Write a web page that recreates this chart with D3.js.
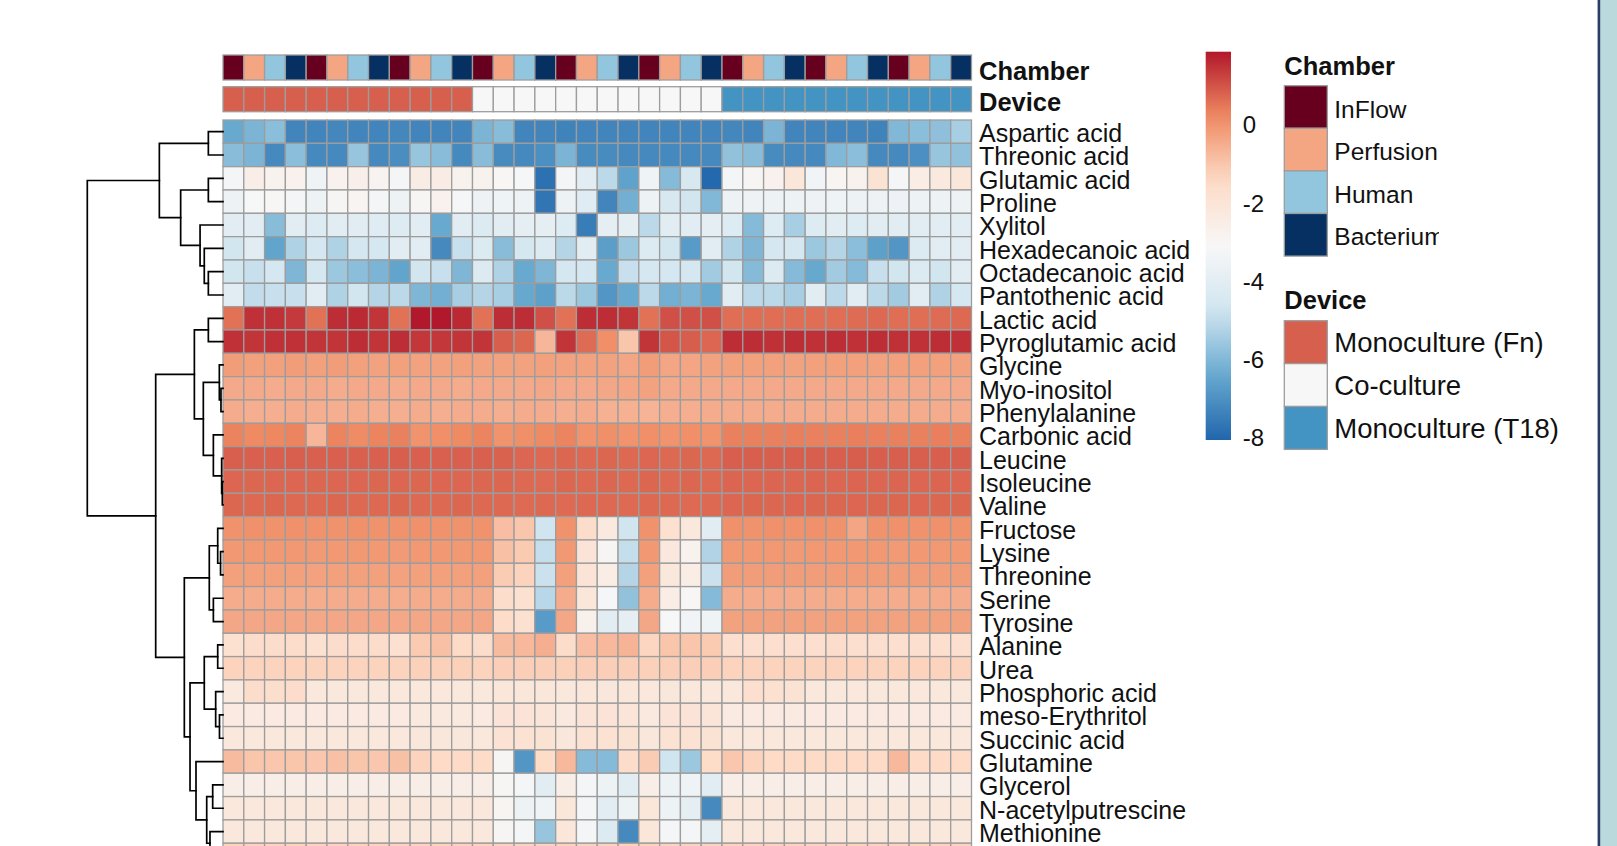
<!DOCTYPE html>
<html>
<head>
<meta charset="utf-8">
<script src="https://cdn.jsdelivr.net/npm/d3@7"></script>
<style>
  html, body { margin: 0; padding: 0; background: #fff; overflow: hidden; }
  svg { display: block; font-family: "Liberation Sans", Arial, sans-serif; }
</style>
</head>
<body>
<svg id="chart" width="1617" height="846"></svg>
<script>
// ---------------- data ----------------
const metabolites = [
  "Aspartic acid", "Threonic acid", "Glutamic acid", "Proline", "Xylitol",
  "Hexadecanoic acid", "Octadecanoic acid", "Pantothenic acid", "Lactic acid",
  "Pyroglutamic acid", "Glycine", "Myo-inositol", "Phenylalanine", "Carbonic acid",
  "Leucine", "Isoleucine", "Valine", "Fructose", "Lysine", "Threonine", "Serine",
  "Tyrosine", "Alanine", "Urea", "Phosphoric acid", "meso-Erythritol",
  "Succinic acid", "Glutamine", "Glycerol", "N-acetylputrescine", "Methionine", ""
];

const chamberLevels = ["InFlow", "Perfusion", "Human", "Bacterium"];
const chamberColors = ["#67001f", "#f4a582", "#92c5de", "#053061"];
const deviceLevels = ["Monoculture (Fn)", "Co-culture", "Monoculture (T18)"];
const deviceColors = ["#d6604d", "#f7f7f7", "#4393c3"];

const sampleChamber = [
  "InFlow","Perfusion","Human","Bacterium","InFlow","Perfusion","Human","Bacterium","InFlow","Perfusion","Human","Bacterium",
  "InFlow","Perfusion","Human","Bacterium","InFlow","Perfusion","Human","Bacterium","InFlow","Perfusion","Human","Bacterium",
  "InFlow","Perfusion","Human","Bacterium","InFlow","Perfusion","Human","Bacterium","InFlow","Perfusion","Human","Bacterium"
];
const sampleDevice = [
  "Monoculture (Fn)","Monoculture (Fn)","Monoculture (Fn)","Monoculture (Fn)","Monoculture (Fn)","Monoculture (Fn)",
  "Monoculture (Fn)","Monoculture (Fn)","Monoculture (Fn)","Monoculture (Fn)","Monoculture (Fn)","Monoculture (Fn)",
  "Co-culture","Co-culture","Co-culture","Co-culture","Co-culture","Co-culture",
  "Co-culture","Co-culture","Co-culture","Co-culture","Co-culture","Co-culture",
  "Monoculture (T18)","Monoculture (T18)","Monoculture (T18)","Monoculture (T18)","Monoculture (T18)","Monoculture (T18)",
  "Monoculture (T18)","Monoculture (T18)","Monoculture (T18)","Monoculture (T18)","Monoculture (T18)","Monoculture (T18)"
];

// log-scaled abundance, one row per metabolite, one value per sample
const cellValues = [
  [-6.4,-6.1,-5.85,-7.3,-7.3,-7.25,-7.3,-7.3,-7.25,-7.3,-7.3,-7.3,-6.1,-5.9,-7.3,-7.3,-7.35,-7.3,-7.3,-7.3,-7.3,-7.3,-7.3,-7.3,-7.25,-7.3,-6.1,-7.3,-7.3,-7.3,-7.3,-7.35,-6.0,-5.85,-5.8,-5.4],
  [-5.9,-6.1,-7.2,-5.85,-7.2,-7.2,-5.65,-7.2,-7.1,-5.65,-5.9,-7.2,-5.9,-7.15,-7.2,-7.05,-6.1,-7.15,-7.15,-7.2,-7.2,-7.2,-7.2,-7.2,-5.75,-5.9,-7.15,-7.2,-7.2,-6.0,-5.85,-7.2,-7.2,-7.05,-5.65,-5.75],
  [-3.3,-2.55,-2.8,-2.75,-3.5,-2.75,-2.65,-2.9,-3.3,-2.45,-2.45,-2.8,-2.8,-3.05,-3.2,-7.8,-3.3,-4.05,-5.1,-6.6,-3.5,-5.95,-4.5,-8.0,-3.3,-3.0,-2.75,-2.1,-3.4,-2.95,-2.8,-1.9,-3.3,-2.5,-2.3,-2.1],
  [-3.55,-3.15,-3.05,-3.3,-3.55,-3.0,-2.95,-3.3,-3.55,-3.0,-2.75,-3.2,-3.55,-3.5,-3.55,-7.7,-3.55,-4.1,-7.3,-6.25,-3.55,-4.5,-4.7,-6.0,-3.55,-3.55,-3.55,-3.55,-3.55,-3.5,-3.55,-3.55,-3.6,-3.55,-3.55,-3.55],
  [-4.05,-4.05,-5.9,-4.05,-4.25,-4.05,-4.05,-4.15,-4.25,-4.05,-6.4,-4.05,-4.3,-4.05,-3.95,-3.95,-4.25,-7.5,-3.95,-3.95,-5.1,-4.05,-4.05,-3.95,-4.25,-5.95,-4.25,-5.4,-4.25,-4.05,-4.25,-4.05,-4.05,-4.05,-4.05,-4.05],
  [-4.7,-4.05,-6.55,-5.3,-4.6,-5.3,-4.6,-4.6,-4.05,-4.05,-7.2,-4.9,-4.3,-5.9,-4.6,-4.3,-5.2,-4.05,-6.7,-5.6,-4.3,-4.7,-6.75,-4.05,-5.3,-6.05,-4.6,-4.6,-5.6,-5.2,-5.85,-6.65,-6.9,-4.3,-4.05,-4.05],
  [-4.7,-4.9,-4.6,-6.05,-4.6,-5.6,-5.85,-6.1,-6.55,-4.7,-4.9,-6.05,-4.3,-5.3,-6.4,-6.05,-4.6,-4.6,-6.4,-4.9,-4.6,-4.6,-4.6,-5.5,-4.7,-5.95,-4.3,-5.95,-6.45,-5.5,-5.95,-4.9,-4.7,-4.3,-4.7,-4.05],
  [-4.05,-5.0,-4.9,-4.9,-4.05,-5.3,-4.7,-5.2,-5.1,-6.05,-6.25,-5.4,-5.2,-5.4,-6.45,-6.65,-5.1,-5.6,-6.9,-6.4,-5.1,-6.25,-6.1,-6.4,-4.05,-5.1,-5.1,-5.4,-4.05,-5.1,-4.05,-5.1,-5.5,-4.05,-5.3,-4.6],
  [0.55,1.5,1.5,1.35,0.55,1.55,1.6,1.45,0.55,1.85,1.85,1.6,0.55,1.55,1.55,1.05,0.55,1.55,1.55,1.45,0.55,1.05,1.05,1.05,0.6,0.6,0.6,0.6,0.6,0.6,0.65,0.67,0.6,0.6,0.65,0.67],
  [1.5,1.45,1.5,1.5,1.45,1.45,1.55,1.45,1.55,1.4,1.4,1.45,1.45,0.85,0.7,-0.7,1.45,0.65,0.1,-1.0,1.45,0.95,0.85,0.72,1.55,1.55,1.5,1.55,1.5,1.55,1.5,1.55,1.5,1.5,1.55,1.5],
  [-0.2,-0.25,-0.25,-0.2,-0.25,-0.2,-0.25,-0.3,-0.25,-0.3,-0.3,-0.25,-0.3,-0.3,-0.3,-0.25,-0.3,-0.3,-0.3,-0.35,-0.2,-0.35,-0.35,-0.3,-0.25,-0.25,-0.25,-0.3,-0.25,-0.25,-0.25,-0.3,-0.25,-0.25,-0.25,-0.3],
  [-0.45,-0.45,-0.5,-0.45,-0.45,-0.5,-0.45,-0.45,-0.5,-0.45,-0.45,-0.5,-0.45,-0.45,-0.45,-0.4,-0.45,-0.45,-0.4,-0.35,-0.3,-0.45,-0.45,-0.45,-0.45,-0.45,-0.45,-0.45,-0.45,-0.45,-0.45,-0.45,-0.45,-0.45,-0.45,-0.45],
  [-0.5,-0.55,-0.55,-0.5,-0.55,-0.55,-0.5,-0.55,-0.55,-0.5,-0.55,-0.5,-0.5,-0.55,-0.5,-0.5,-0.55,-0.5,-0.6,-0.6,-0.65,-0.55,-0.55,-0.5,-0.5,-0.5,-0.5,-0.5,-0.5,-0.5,-0.5,-0.5,-0.5,-0.5,-0.5,-0.5],
  [0.3,0.2,0.22,0.28,-0.7,0.28,0.15,0.28,0.32,0.0,0.1,0.18,0.28,0.0,0.08,0.18,0.28,0.0,0.08,0.0,0.1,0.0,0.1,0.0,0.32,0.32,0.32,0.35,0.32,0.32,0.35,0.32,0.32,0.32,0.35,0.32],
  [0.82,0.8,0.8,0.82,0.8,0.8,0.8,0.8,0.82,0.8,0.8,0.8,0.8,0.78,0.72,0.68,0.7,0.68,0.7,0.68,0.72,0.68,0.7,0.68,0.82,0.82,0.82,0.82,0.82,0.82,0.85,0.82,0.82,0.82,0.82,0.82],
  [0.72,0.7,0.72,0.72,0.7,0.72,0.72,0.7,0.72,0.7,0.72,0.72,0.7,0.7,0.68,0.66,0.7,0.68,0.7,0.68,0.7,0.68,0.7,0.68,0.74,0.72,0.74,0.72,0.74,0.72,0.74,0.72,0.74,0.72,0.74,0.72],
  [0.7,0.68,0.7,0.68,0.68,0.7,0.68,0.68,0.7,0.68,0.68,0.7,0.68,0.68,0.66,0.68,0.66,0.68,0.68,0.66,0.68,0.68,0.66,0.68,0.72,0.7,0.7,0.72,0.7,0.7,0.72,0.7,0.7,0.72,0.7,0.7],
  [0.02,0.05,0.02,0.05,0.02,0.02,0.05,0.02,0.02,0.05,0.02,0.02,0.02,-0.85,-1.0,-4.75,0.02,-1.6,-2.3,-4.75,0.02,-1.8,-2.2,-4.05,0.05,0.02,0.05,0.02,0.05,0.02,-0.35,0.02,0.05,0.02,0.05,0.02],
  [-0.1,-0.1,-0.1,-0.1,-0.12,-0.1,-0.1,-0.1,-0.12,-0.1,-0.1,-0.1,-0.1,-0.9,-1.1,-4.95,-0.1,-2.0,-3.0,-4.95,-0.1,-2.25,-2.8,-5.25,-0.1,-0.1,-0.1,-0.12,-0.1,-0.1,-0.1,-0.1,-0.12,-0.1,-0.1,-0.1],
  [-0.25,-0.25,-0.25,-0.25,-0.28,-0.25,-0.25,-0.25,-0.28,-0.25,-0.25,-0.25,-0.25,-1.15,-1.3,-4.85,-0.25,-2.0,-2.5,-5.2,-0.25,-2.2,-2.5,-4.85,-0.2,-0.2,-0.2,-0.2,-0.2,-0.2,-0.2,-0.2,-0.2,-0.2,-0.2,-0.2],
  [-0.5,-0.5,-0.5,-0.5,-0.52,-0.5,-0.5,-0.5,-0.52,-0.5,-0.5,-0.5,-0.5,-1.6,-1.75,-5.15,-0.5,-2.1,-3.2,-5.75,-0.5,-2.5,-3.05,-5.95,-0.5,-0.5,-0.5,-0.5,-0.5,-0.5,-0.5,-0.5,-0.5,-0.5,-0.5,-0.5],
  [-0.4,-0.4,-0.4,-0.4,-0.42,-0.4,-0.4,-0.4,-0.42,-0.4,-0.4,-0.4,-0.4,-1.55,-1.8,-6.75,-0.4,-2.7,-4.05,-3.95,-0.4,-3.15,-3.35,-3.5,-0.3,-0.3,-0.3,-0.3,-0.3,-0.3,-0.3,-0.3,-0.3,-0.3,-0.3,-0.3],
  [-1.75,-1.6,-1.6,-1.6,-1.75,-1.6,-1.6,-1.6,-1.75,-1.1,-0.9,-1.45,-1.6,-0.8,-0.75,-0.55,-1.6,-0.85,-0.75,-0.65,-1.35,-1.0,-1.0,-1.1,-1.7,-1.7,-1.7,-1.7,-1.7,-1.6,-1.7,-1.7,-1.7,-1.7,-1.7,-1.7],
  [-1.3,-1.3,-1.3,-1.3,-1.3,-1.3,-1.3,-1.3,-1.3,-1.25,-1.25,-1.25,-1.3,-1.2,-1.2,-1.2,-1.25,-1.2,-1.2,-1.2,-1.25,-1.2,-1.2,-1.2,-1.3,-1.3,-1.3,-1.3,-1.3,-1.3,-1.3,-1.3,-1.3,-1.3,-1.3,-1.3],
  [-2.3,-1.6,-1.65,-1.6,-2.2,-2.2,-2.2,-2.2,-2.2,-2.2,-2.2,-2.2,-2.2,-2.1,-2.1,-2.1,-2.2,-2.1,-2.15,-2.1,-2.2,-2.15,-2.2,-2.2,-2.2,-1.7,-1.8,-1.9,-2.2,-2.2,-2.2,-2.2,-2.2,-2.2,-2.2,-2.2],
  [-2.35,-2.35,-2.35,-2.35,-2.35,-2.35,-2.35,-2.35,-2.35,-2.3,-2.3,-2.3,-2.35,-2.0,-2.0,-2.05,-2.3,-2.0,-2.0,-2.05,-2.3,-2.0,-2.0,-2.05,-2.35,-2.35,-2.35,-2.35,-2.35,-2.35,-2.35,-2.35,-2.35,-2.35,-2.35,-2.35],
  [-2.2,-2.2,-2.2,-2.2,-2.2,-2.2,-2.2,-2.2,-2.2,-2.15,-2.15,-2.15,-2.2,-1.85,-1.85,-1.9,-2.15,-1.85,-1.85,-1.9,-2.15,-1.85,-1.85,-1.9,-2.2,-2.2,-2.2,-2.2,-2.2,-2.2,-2.2,-2.2,-2.2,-2.2,-2.2,-2.2],
  [-0.8,-1.0,-1.05,-1.0,-1.05,-0.9,-1.0,-1.05,-0.9,-1.3,-1.45,-1.45,-1.5,-3.0,-6.9,-1.5,-0.75,-5.95,-5.95,-1.6,-1.15,-4.75,-5.6,-1.5,-1.05,-1.3,-1.45,-1.45,-1.45,-1.45,-1.45,-1.45,-0.75,-1.45,-1.45,-1.45],
  [-2.55,-2.55,-2.55,-2.55,-2.55,-2.55,-2.55,-2.55,-2.55,-2.55,-2.55,-2.55,-2.55,-3.0,-3.3,-4.05,-2.55,-3.3,-3.55,-4.05,-2.55,-3.55,-3.5,-4.05,-2.55,-2.55,-2.55,-2.55,-2.55,-2.55,-2.55,-2.55,-2.55,-2.55,-2.55,-2.55],
  [-2.2,-2.2,-2.2,-2.2,-2.2,-2.2,-2.2,-2.2,-2.2,-2.2,-2.2,-2.2,-2.2,-2.95,-3.55,-3.5,-2.1,-3.3,-4.05,-3.55,-2.1,-3.55,-3.95,-7.2,-2.2,-2.2,-2.2,-2.2,-2.2,-2.2,-2.2,-2.2,-2.2,-2.2,-2.2,-2.2],
  [-2.2,-2.2,-2.2,-2.2,-2.2,-2.2,-2.2,-2.2,-2.2,-2.2,-2.2,-2.2,-2.2,-3.0,-3.3,-5.65,-2.1,-3.3,-4.3,-7.2,-2.1,-3.3,-3.3,-3.95,-2.2,-2.2,-2.2,-2.2,-2.2,-2.2,-2.2,-2.2,-2.2,-2.2,-2.2,-2.2],
  [-1.3,-1.3,-1.3,-1.3,-1.3,-1.3,-1.3,-1.3,-1.3,-1.3,-1.3,-1.3,-1.3,-1.3,-1.3,-1.3,-1.3,-1.3,-1.3,-1.3,-1.3,-1.3,-1.3,-1.3,-1.3,-1.3,-1.3,-1.3,-1.3,-1.3,-1.3,-1.3,-1.3,-1.3,-1.3,-1.3]
];

// row clustering: [node, left, right, height]; numbers are row indices
const rowMerges = [
  ["A", 0, 1, 1.08], ["B", 2, 3, 1.08], ["E", 6, 7, 1.08], ["D", 5, "E", 1.38],
  ["C", 4, "D", 1.69], ["F", "B", "C", 3.12], ["G", "A", "F", 4.69],
  ["K", 8, 9, 1.08], ["M1", 11, 12, 0.15], ["M", 10, "M1", 0.27],
  ["O1", 15, 16, 0.05], ["O", 14, "O1", 0.10], ["N", 13, "O", 0.71],
  ["L", "M", "N", 1.45], ["I", "K", "L", 2.11],
  ["R1", 18, 19, 0.18], ["R", 17, "R1", 0.39], ["S", 20, 21, 0.71], ["P", "R", "S", 1.01],
  ["V", 22, 23, 0.39], ["W1", 25, 26, 0.26], ["W", 24, "W1", 0.54], ["T", "V", "W", 1.38],
  ["Y", 28, 29, 0.76], ["Z", 30, 31, 0.96], ["X", "Y", "Z", 1.20], ["U", 27, "X", 1.99],
  ["Q", "T", "U", 2.43], ["J", "P", "Q", 2.85], ["H", "I", "J", 4.96],
  ["root", "G", "H", 10]
];

const legendTicks = [0, -2, -4, -6, -8];
const valueMin = -8.07, valueMax = 1.85;
const paletteColors = ["#b2182b", "#ef8a62", "#fddbc7", "#f7f7f7", "#d1e5f0", "#67a9cf", "#2166ac"];

// ---------------- scales ----------------
const svg = d3.select("#chart");
const nCols = sampleChamber.length;
const nRows = metabolites.length;
const rowH = 23.33;

const x = d3.scaleBand().domain(d3.range(nCols)).range([223, 971.5]);
const y = d3.scaleBand().domain(d3.range(nRows)).range([120, 120 + nRows * rowH]);

const color = d3.scaleLinear()
  .domain(paletteColors.map((c, i) => valueMax - i * (valueMax - valueMin) / (paletteColors.length - 1)))
  .range(paletteColors)
  .interpolate(d3.interpolateRgb)
  .clamp(true);

const chamberColor = d3.scaleOrdinal().domain(chamberLevels).range(chamberColors);
const deviceColor = d3.scaleOrdinal().domain(deviceLevels).range(deviceColors);

const gridStroke = "#9d9d9d";
const textColor = "#111";

// ---------------- column annotations ----------------
const annot = svg.append("g");
annot.selectAll("rect.chamber").data(sampleChamber).join("rect")
  .attr("class", "chamber")
  .attr("x", (d, i) => x(i)).attr("y", 55)
  .attr("width", x.bandwidth()).attr("height", 25)
  .attr("fill", d => chamberColor(d))
  .attr("stroke", gridStroke).attr("stroke-width", 1.3);

annot.selectAll("rect.device").data(sampleDevice).join("rect")
  .attr("class", "device")
  .attr("x", (d, i) => x(i)).attr("y", 86.7)
  .attr("width", x.bandwidth()).attr("height", 25)
  .attr("fill", d => deviceColor(d))
  .attr("stroke", gridStroke).attr("stroke-width", 1.3);

annot.append("text").text("Chamber")
  .attr("x", 979).attr("y", 80)
  .attr("font-size", 25.5).attr("font-weight", "bold").attr("fill", textColor);
annot.append("text").text("Device")
  .attr("x", 979).attr("y", 111)
  .attr("font-size", 25.5).attr("font-weight", "bold").attr("fill", textColor);

// ---------------- heatmap cells ----------------
const cells = [];
cellValues.forEach((row, r) => row.forEach((v, c) => cells.push({ r, c, v })));

svg.append("g").selectAll("rect").data(cells).join("rect")
  .attr("x", d => x(d.c)).attr("y", d => y(d.r))
  .attr("width", x.bandwidth()).attr("height", y.bandwidth())
  .attr("fill", d => color(d.v))
  .attr("stroke", gridStroke).attr("stroke-width", 1.3);

// row labels
svg.append("g").selectAll("text").data(metabolites.filter(m => m !== "")).join("text")
  .text(d => d)
  .attr("x", 979)
  .attr("y", (d, i) => y(i) + y.bandwidth() / 2 + 10.3)
  .attr("font-size", 25).attr("fill", textColor);

// ---------------- row dendrogram ----------------
const xd = d3.scaleLinear().domain([0, 10]).range([223, 87.3]);
const nodes = {};
const pos = key => (typeof key === "number")
  ? { x: xd(0), y: y(key) + y.bandwidth() / 2 }
  : nodes[key];

const dendro = svg.append("g").attr("fill", "none").attr("stroke", "#000")
  .attr("stroke-width", 1.7).attr("stroke-linejoin", "miter").attr("stroke-linecap", "square");

rowMerges.forEach(([name, a, b, h]) => {
  const pa = pos(a), pb = pos(b);
  const nx = xd(h);
  nodes[name] = { x: nx, y: (pa.y + pb.y) / 2 };
  const p = d3.path();
  p.moveTo(pa.x, pa.y);
  p.lineTo(nx, pa.y);
  p.lineTo(nx, pb.y);
  p.lineTo(pb.x, pb.y);
  dendro.append("path").attr("d", p.toString());
});

// ---------------- colour legend ----------------
const yLeg = d3.scaleLinear().domain([valueMin, valueMax]).range([440, 51.7]);
const defs = svg.append("defs");
const grad = defs.append("linearGradient").attr("id", "valueGradient")
  .attr("x1", 0).attr("y1", 1).attr("x2", 0).attr("y2", 0);
d3.range(0, 1.0001, 0.05).forEach(t => {
  grad.append("stop").attr("offset", t)
    .attr("stop-color", color(valueMin + t * (valueMax - valueMin)));
});
svg.append("rect")
  .attr("x", 1205.7).attr("y", yLeg(valueMax))
  .attr("width", 25.3).attr("height", yLeg(valueMin) - yLeg(valueMax))
  .attr("fill", "url(#valueGradient)");

svg.append("g").selectAll("text").data(legendTicks).join("text")
  .text(d => d)
  .attr("x", 1242.7).attr("y", d => yLeg(d) + 9.1)
  .attr("font-size", 24).attr("fill", textColor);

// ---------------- annotation legends ----------------
const leg = svg.append("g");
const swX = 1284.3, swW = 43, swH = 42.6;

leg.append("text").text("Chamber")
  .attr("x", swX).attr("y", 75)
  .attr("font-size", 25.5).attr("font-weight", "bold").attr("fill", textColor);

defs.append("clipPath").attr("id", "chamberClip")
  .append("rect").attr("x", 1280).attr("y", 40).attr("width", 159).attr("height", 240);

leg.selectAll("rect.ch").data(chamberLevels).join("rect")
  .attr("class", "ch")
  .attr("x", swX).attr("y", (d, i) => 85.7 + i * swH)
  .attr("width", swW).attr("height", swH)
  .attr("fill", d => chamberColor(d))
  .attr("stroke", gridStroke).attr("stroke-width", 1.3);

leg.append("g").attr("clip-path", "url(#chamberClip)")
  .selectAll("text").data(chamberLevels).join("text")
  .text(d => d)
  .attr("x", 1334.3).attr("y", (d, i) => 85.7 + i * swH + swH / 2 + 10.6)
  .attr("font-size", 24.5).attr("fill", textColor);

leg.append("text").text("Device")
  .attr("x", swX).attr("y", 309.3)
  .attr("font-size", 25.5).attr("font-weight", "bold").attr("fill", textColor);

leg.selectAll("rect.dv").data(deviceLevels).join("rect")
  .attr("class", "dv")
  .attr("x", swX).attr("y", (d, i) => 320.7 + i * 42.9)
  .attr("width", swW).attr("height", 42.9)
  .attr("fill", d => deviceColor(d))
  .attr("stroke", gridStroke).attr("stroke-width", 1.3);

leg.selectAll("text.dv").data(deviceLevels).join("text")
  .attr("class", "dv")
  .text(d => d)
  .attr("x", 1334.3).attr("y", (d, i) => 320.7 + i * 42.9 + 21.45 + 10.2)
  .attr("font-size", 27.5).attr("fill", textColor);

// ---------------- page frame on the right ----------------
svg.append("rect").attr("x", 1600).attr("y", 0).attr("width", 17).attr("height", 846).attr("fill", "#b9d9dc");
svg.append("rect").attr("x", 1597.6).attr("y", 0).attr("width", 2.6).attr("height", 846).attr("fill", "#2d3b6b");
</script>
</body>
</html>
